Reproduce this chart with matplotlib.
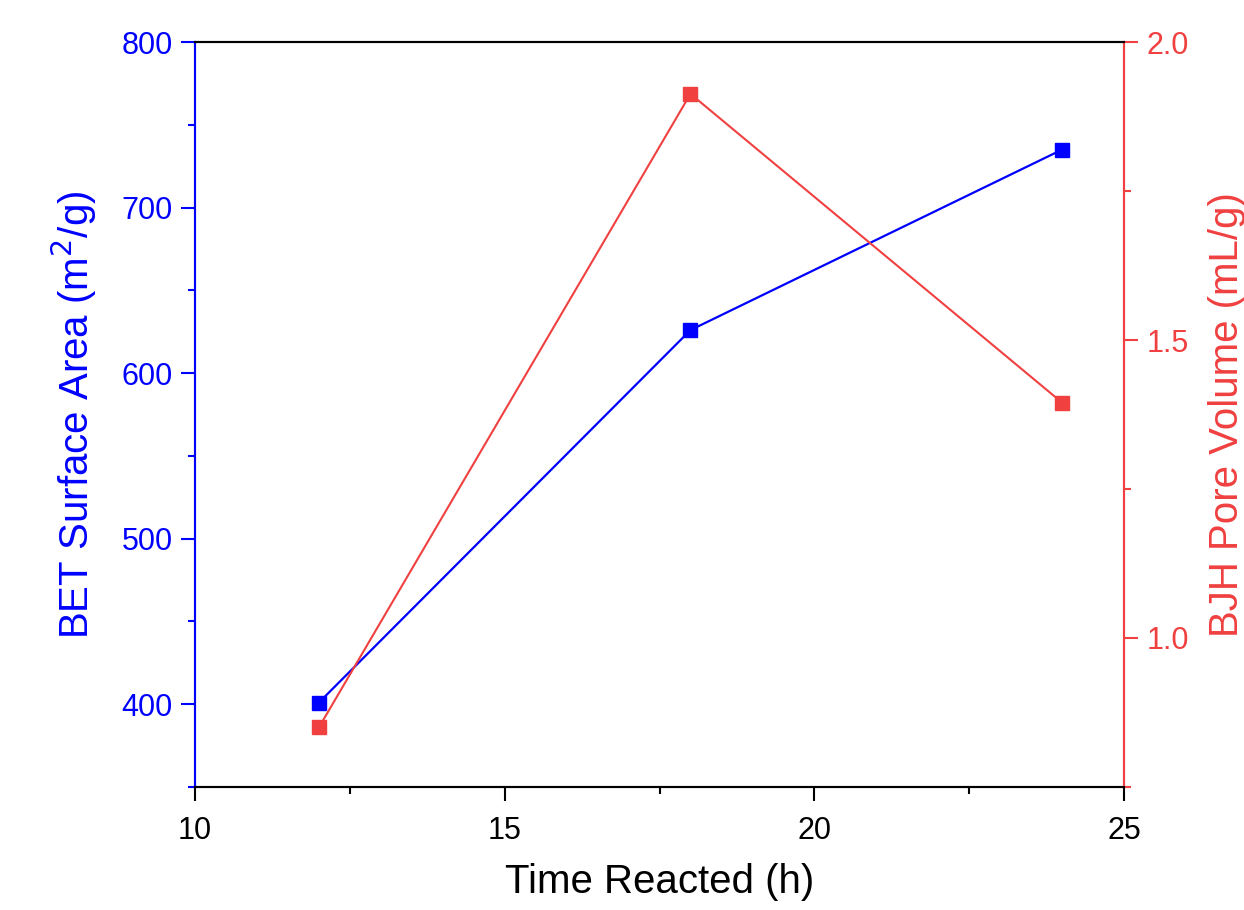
import matplotlib
matplotlib.use("Agg")
import matplotlib.pyplot as plt
from matplotlib.ticker import MultipleLocator

plt.rcParams['font.family'] = ['Liberation Sans', 'DejaVu Sans']

time_h = [12, 18, 24]
bet_area = [401, 626, 735]
bjh_volume = [0.85, 1.913, 1.395]

blue = '#0000FF'
red = '#F04040'

fig = plt.figure(figsize=(12.44, 9.10), dpi=100)
ax = fig.add_axes([0.1568, 0.1352, 0.7467, 0.8186])
ax2 = ax.twinx()

ax.plot(time_h, bet_area, color=blue, lw=1.6, marker='s', ms=9.5, mec=blue, mfc=blue)
ax2.plot(time_h, bjh_volume, color=red, lw=1.5, marker='s', ms=9.5, mec=red, mfc=red)

ax.set_xlim(10, 25)
ax.set_ylim(350, 800)
ax2.set_ylim(0.75, 2.0)

ax.xaxis.set_major_locator(MultipleLocator(5))
ax.xaxis.set_minor_locator(MultipleLocator(2.5))
ax.yaxis.set_major_locator(MultipleLocator(100))
ax.yaxis.set_minor_locator(MultipleLocator(50))
ax2.yaxis.set_major_locator(MultipleLocator(0.5))
ax2.yaxis.set_minor_locator(MultipleLocator(0.25))
ax2.yaxis.set_major_formatter(matplotlib.ticker.FormatStrFormatter('%.1f'))

fs_tick = 22
fs_label = 29

for a in (ax, ax2):
    for s in a.spines.values():
        s.set_linewidth(1.5)
    a.spines['top'].set_color('black')
    a.spines['bottom'].set_color('black')
ax2.spines['left'].set_color(blue)
ax.spines['left'].set_color(blue)
ax2.spines['right'].set_color(red)
ax.spines['right'].set_color(red)

ax.tick_params(axis='x', which='major', direction='out', length=10, width=1.5, colors='black', labelsize=fs_tick, pad=11)
ax.tick_params(axis='x', which='minor', direction='out', length=5, width=1.5, colors='black')
ax.tick_params(axis='y', which='major', direction='out', length=10, width=1.5, colors=blue, labelsize=fs_tick, pad=6)
ax.tick_params(axis='y', which='minor', direction='out', length=5, width=1.5, colors=blue)
ax2.tick_params(axis='y', which='major', direction='out', length=10, width=1.5, colors=red, labelsize=fs_tick, pad=6)
ax2.tick_params(axis='y', which='minor', direction='out', length=5, width=1.5, colors=red)

ax.set_xlabel('Time Reacted (h)', fontsize=fs_label, color='black', labelpad=12)
ax.set_ylabel('BET Surface Area (m$^2$/g)', fontsize=fs_label, color=blue, labelpad=16)
ax2.set_ylabel('BJH Pore Volume (mL/g)', fontsize=fs_label, color=red, labelpad=14)

fig.savefig('out.png', dpi=100)
